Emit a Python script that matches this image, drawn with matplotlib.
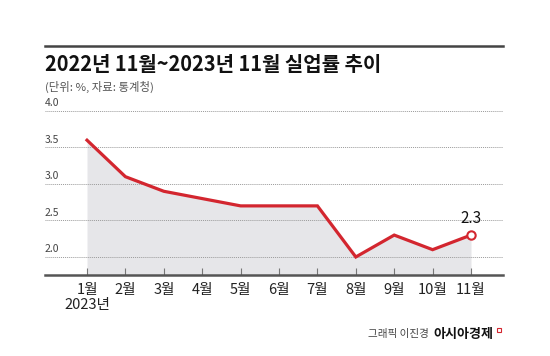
import matplotlib
matplotlib.use("Agg")
import matplotlib.pyplot as plt
from matplotlib.lines import Line2D

plt.rcParams['font.family'] = ['Noto Sans CJK KR', 'DejaVu Sans']

months = ['1월', '2월', '3월', '4월', '5월', '6월', '7월', '8월', '9월', '10월', '11월']
rate = [3.6, 3.1, 2.9, 2.8, 2.7, 2.7, 2.7, 2.0, 2.3, 2.1, 2.3]
y_ticks = [2.0, 2.5, 3.0, 3.5, 4.0]
y_labels = ['2.0', '2.5', '3.0', '3.5', '4.0']

RED = '#d3262f'
FILL = '#e6e6e9'
W, H = 550, 356

fig = plt.figure(figsize=(W / 100, H / 100), dpi=100)
fig.patch.set_facecolor('white')

# axes placed by pixel measurements of the reference
left, right, bottom, top = 45, 503, 275, 107.35
ax = fig.add_axes([left / W, (H - bottom) / H, (right - left) / W, (bottom - top) / H])
ax.set_facecolor('none')

x = list(range(len(months)))
ybase = 1.753
ax.set_xlim(-1.094, 10.833)
ax.set_ylim(ybase, 4.05)

ax.fill_between(x, rate, ybase, color=FILL, lw=0, zorder=1)
for yv, lab in zip(y_ticks, y_labels):
    ax.axhline(yv, color='#9a9a9a', lw=0.7, ls=(0, (1, 1)), zorder=2)
    ax.annotate(lab, xy=(0, yv), xycoords=('axes fraction', 'data'),
                xytext=(0, 2), textcoords='offset points',
                ha='left', va='bottom', fontsize=7.5, color='#444444')

ax.plot(x, rate, color=RED, lw=2.3, solid_joinstyle='miter', zorder=4)
ax.plot(x[-1], rate[-1], 'o', ms=6, mfc='white', mec=RED, mew=1.5, zorder=5)
ax.annotate(f'{rate[-1]:.1f}', xy=(x[-1], rate[-1]), xytext=(0, 6),
            textcoords='offset points', ha='center', va='bottom',
            fontsize=11, color='#111111')

for s in ['top', 'left', 'right']:
    ax.spines[s].set_visible(False)
ax.spines['bottom'].set_color('#555555')
ax.spines['bottom'].set_linewidth(1.8)
ax.spines['bottom'].set_zorder(6)

ax.set_yticks([])
ax.set_xticks(x)
ax.set_xticklabels(months, fontsize=10.5, color='#222222')
ax.tick_params(axis='x', direction='in', length=5, width=0.8, color='#777777', pad=6)
ax.annotate('2023년', xy=(0, ybase), xycoords='data', xytext=(0, -16.5),
            textcoords='offset points', ha='center', va='top',
            fontsize=10.5, color='#222222', annotation_clip=False)

# header
fig.add_artist(Line2D([45 / W, 503 / W], [1 - 45.7 / H, 1 - 45.7 / H],
                      color='#444444', lw=1.8))
fig.text(45 / W, 1 - 71 / H, '2022년 11월~2023년 11월 실업률 추이',
         fontsize=14.4, fontweight='bold', color='#111111', ha='left', va='baseline')
fig.text(45 / W, 1 - 87 / H, '(단위: %, 자료: 통계청)',
         fontsize=8.2, color='#555555', ha='left', va='center')

# credit
fig.text(368 / W, 1 - 334 / H, '그래픽 이진경', fontsize=7.6, color='#444444',
         ha='left', va='center')
fig.text(433 / W, 1 - 334 / H, '아시아경제', fontsize=9.4, fontweight='bold',
         color='#111111', ha='left', va='center')
fig.add_artist(Line2D([499 / W], [1 - 330 / H], marker='s', ms=2.6, mfc='white',
                      mec=RED, mew=0.8, ls='none'))

fig.savefig('out.png', dpi=100)
